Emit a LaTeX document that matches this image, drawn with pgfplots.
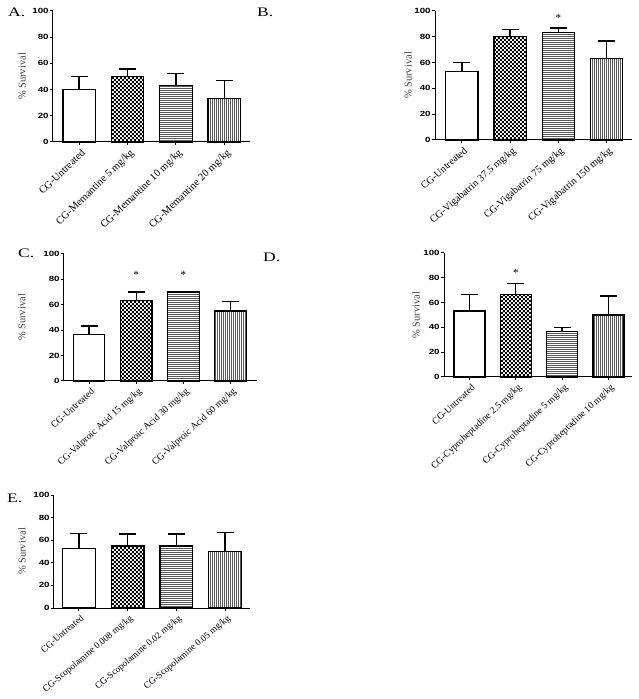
\documentclass[border=0pt]{standalone}
\usepackage{fontspec}
\setmainfont{Liberation Serif}
\newfontfamily\sansf{Liberation Sans}
\usepackage{graphicx}
\usepackage{pgfplots}
\pgfplotsset{compat=1.18}
\usetikzlibrary{patterns}

\pgfdeclarepatternformonly{checker}{\pgfpointorigin}{\pgfqpoint{4.4pt}{4.4pt}}{\pgfqpoint{4.4pt}{4.4pt}}{%
 \pgfpathrectangle{\pgfpointorigin}{\pgfqpoint{2.2pt}{2.2pt}}%
 \pgfpathrectangle{\pgfqpoint{2.2pt}{2.2pt}}{\pgfqpoint{2.2pt}{2.2pt}}%
 \pgfusepath{fill}}
\pgfdeclarepatternformonly{hlines}{\pgfpointorigin}{\pgfqpoint{2.4pt}{2.4pt}}{\pgfqpoint{2.4pt}{2.4pt}}{%
 \pgfpathrectangle{\pgfpointorigin}{\pgfqpoint{2.4pt}{0.75pt}}\pgfusepath{fill}}
\pgfdeclarepatternformonly{vlines}{\pgfpointorigin}{\pgfqpoint{2.4pt}{2.4pt}}{\pgfqpoint{2.4pt}{2.4pt}}{%
 \pgfpathrectangle{\pgfpointorigin}{\pgfqpoint{0.75pt}{2.4pt}}\pgfusepath{fill}}

\newcommand{\lblfont}{\fontsize{10.5}{12}\selectfont}
\newcommand{\tickfont}{\sansf\bfseries\fontsize{7.5}{8}\selectfont}
\newcommand{\letter}[1]{\scalebox{1.35}[1]{\fontsize{13}{14}\selectfont #1}}

\pgfplotsset{
 panel/.style={scale only axis, anchor=south west, clip=false,
  /pgf/number format/assume math mode=true,
  ymin=0, ymax=100, ytick={0,20,40,60,80,100}, xtick={0,1,2,3},
  axis lines=left, axis line style={line width=1pt,-},
  xtick pos=bottom, ytick pos=left,
  tick style={line width=1pt,black}, tick align=outside, major tick length=3.2pt,
  yticklabel style={font=\tickfont, inner sep=1pt},
  yticklabel={\scalebox{1.3}[1]{\pgfmathprintnumber{\tick}}},
  xticklabel style={anchor=north east, inner sep=1pt, xshift=1.5pt, yshift=-1.5pt},
  ylabel={\% Survival},
  ylabel style={at={(axis description cs:#1,0.5)}, anchor=center, font=\lblfont, text=black!75}},
 xl/.style 2 args={xticklabel style={font=\fontsize{#1}{12}\selectfont, rotate=#2}},
 bar/.style={ybar, bar width=0.67, bar shift=0pt, draw=black, line width=1.3pt,
  error bars/y dir=plus, error bars/y explicit,
  error bars/error bar style={line width=1.3pt, black, solid},
  error bars/error mark options={rotate=90, mark size=8.5pt, line width=1.3pt, black}},
 b0/.style={bar, fill=white},
 b1/.style={bar, pattern=checker},
 b2/.style={bar, pattern=hlines},
 b3/.style={bar, pattern=vlines},
}

\begin{document}
\begin{tikzpicture}
\path[use as bounding box] (0,0) rectangle (638pt,699pt);

% Panel A
\node[anchor=base west, inner sep=0pt] at (8pt,682pt) {\letter{A.}};
\begin{axis}[panel=-0.157, xl={10.5}{44}, at={(53pt,557pt)}, width=197pt, height=131pt,
  xmin=-0.54, xmax=3.53,
  xticklabels={CG-Untreated, CG-Memantine 5 mg/kg, CG-Memantine 10 mg/kg, CG-Memantine 20 mg/kg}]
\addplot[b0] coordinates {(0,40) +- (0,10)};
\addplot[b1] coordinates {(1,50) +- (0,5.8)};
\addplot[b2] coordinates {(2,43.3) +- (0,8.8)};
\addplot[b3] coordinates {(3,33.3) +- (0,13.4)};
\end{axis}

% Panel B
\node[anchor=base west, inner sep=0pt] at (257pt,682pt) {\letter{B.}};
\begin{axis}[panel=-0.137, xl={10.2}{41}, at={(435pt,559pt)}, width=197pt, height=129pt,
  xmin=-0.56, xmax=3.53,
  xticklabels={CG-Untreated, CG-Vigabatrin 37.5 mg/kg, CG-Vigabatrin 75 mg/kg, CG-Vigabatrin 150 mg/kg}]
\addplot[b0] coordinates {(0,53.3) +- (0,6.7)};
\addplot[b1] coordinates {(1,80) +- (0,5.8)};
\addplot[b2] coordinates {(2,83.3) +- (0,3.5)};
\addplot[b3] coordinates {(3,63.3) +- (0,13.4)};
\node[font=\fontsize{11}{12}\selectfont] at (axis cs:2,95) {*};
\end{axis}

% Panel C
\node[anchor=base west, inner sep=0pt] at (18pt,441pt) {\letter{C.}};
\begin{axis}[panel=-0.218, xl={9.6}{42}, at={(64pt,318pt)}, width=193pt, height=127pt,
  xmin=-0.53, xmax=3.56,
  xticklabels={CG-Untreated, CG-Valproic Acid 15 mg/kg, CG-Valproic Acid 30 mg/kg, CG-Valproic Acid 60 mg/kg}]
\addplot[b0] coordinates {(0,36.7) +- (0,6.7)};
\addplot[b1] coordinates {(1,63.3) +- (0,6.7)};
\addplot[b2] coordinates {(2,70) +- (0,0)};
\addplot[b3] coordinates {(3,55) +- (0,7.6)};
\node[font=\fontsize{11}{12}\selectfont] at (axis cs:1,83.5) {*};
\node[font=\fontsize{11}{12}\selectfont] at (axis cs:2,83.5) {*};
\end{axis}

% Panel D
\node[anchor=base west, inner sep=0pt] at (263pt,437pt) {\letter{D.}};
\begin{axis}[panel=-0.149, xl={9.6}{43}, at={(444pt,322pt)}, width=188pt, height=124pt,
  xmin=-0.55, xmax=3.51,
  xticklabels={CG-Untreated, CG-Cyproheptadine 2.5 mg/kg, CG-Cyproheptadine 5 mg/kg, CG-Cyproheptadine 10 mg/kg}]
\addplot[b0] coordinates {(0,53.3) +- (0,13.3)};
\addplot[b1] coordinates {(1,66.7) +- (0,8.8)};
\addplot[b2] coordinates {(2,36.7) +- (0,3.3)};
\addplot[b3] coordinates {(3,50) +- (0,15.3)};
\node[font=\fontsize{11}{12}\selectfont] at (axis cs:1,84) {*};
\end{axis}

% Panel E
\node[anchor=base west, inner sep=0pt] at (7pt,196pt) {\letter{E.}};
\begin{axis}[panel=-0.163, xl={9.3}{40}, at={(54pt,91pt)}, width=196pt, height=113pt,
  xmin=-0.51, xmax=3.51,
  xticklabels={CG-Untreated, CG-Scopolamine 0.008 mg/kg, CG-Scopolamine 0.02 mg/kg, CG-Scopolamine 0.05 mg/kg}]
\addplot[b0] coordinates {(0,52.5) +- (0,13.3)};
\addplot[b1] coordinates {(1,55) +- (0,10.5)};
\addplot[b2] coordinates {(2,55) +- (0,10.5)};
\addplot[b3] coordinates {(3,50) +- (0,17)};
\end{axis}
\end{tikzpicture}
\end{document}
